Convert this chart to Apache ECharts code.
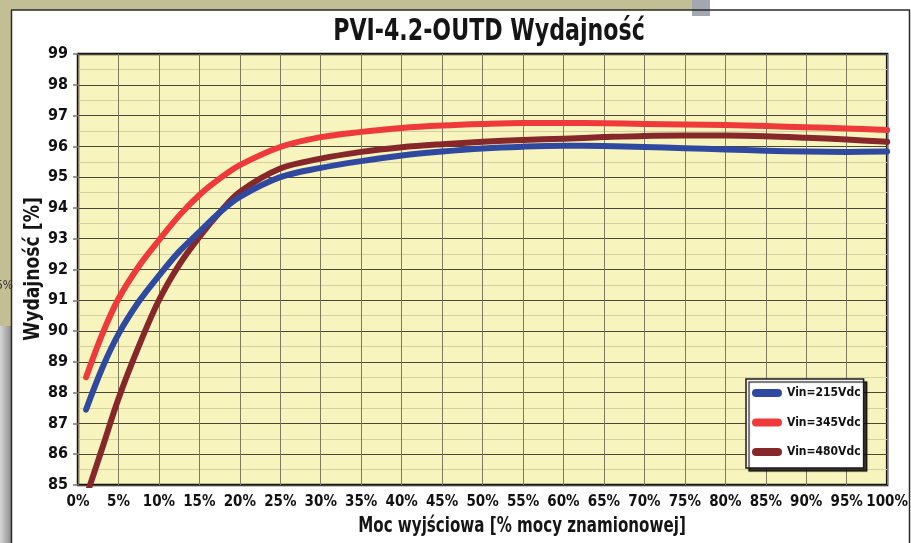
<!DOCTYPE html>
<html><head><meta charset="utf-8">
<script src="https://cdn.jsdelivr.net/npm/echarts@6/dist/echarts.min.js"></script>
<style>html,body{margin:0;padding:0;background:#fff}#c{width:911px;height:543px}</style>
</head><body><div id="c"></div>
<script>
const titleText = 'PVI-4.2-OUTD Wydajność';
const xAxisName = 'Moc wyjściowa [% mocy znamionowej]';
const yAxisName = 'Wydajność [%]';
const seriesNames = ['Vin=215Vdc', 'Vin=345Vdc', 'Vin=480Vdc'];
const seriesColors = ['#2f49a0', '#ef3a3c', '#86272a'];

const x215 = [1, 3, 5, 7.5, 10, 12.5, 15, 17.5, 20, 25, 30, 35, 40, 45, 50, 55, 60, 65, 70, 75, 80, 85, 90, 95, 100];
const v215 = [87.45, 88.8, 89.9, 90.95, 91.8, 92.58, 93.22, 93.85, 94.36, 95.0, 95.3, 95.52, 95.7, 95.83, 95.93, 95.99, 96.02, 96.01, 95.98, 95.94, 95.9, 95.86, 95.83, 95.82, 95.83];

const x345 = [1, 3, 5, 7.5, 10, 12.5, 15, 17.5, 20, 25, 30, 35, 40, 45, 50, 55, 60, 65, 70, 75, 80, 85, 90, 95, 100];
const v345 = [88.5, 89.9, 91.05, 92.1, 92.95, 93.75, 94.42, 94.95, 95.39, 95.98, 96.3, 96.47, 96.6, 96.68, 96.73, 96.76, 96.76, 96.75, 96.73, 96.71, 96.69, 96.66, 96.62, 96.58, 96.53];

const x480 = [1.3, 3, 5, 7.5, 10, 12.5, 15, 17.5, 20, 25, 30, 35, 40, 45, 50, 55, 60, 65, 70, 75, 80, 85, 90, 95, 100];
const v480 = [84.85, 86.2, 87.8, 89.5, 91.0, 92.15, 93.06, 93.85, 94.52, 95.28, 95.6, 95.82, 95.97, 96.07, 96.15, 96.21, 96.25, 96.3, 96.34, 96.35, 96.35, 96.33, 96.28, 96.22, 96.15];

const xs = [x215, x345, x480];
const vs = [v215, v345, v480];

const FONT = '"DejaVu Sans Condensed", "Liberation Sans Narrow", sans-serif';
const chart = echarts.init(document.getElementById('c'), null, {renderer: 'canvas'});
const pill = 'path://M4,0 L26,0 A4,4 0 0 1 26,8 L4,8 A4,4 0 0 1 4,0 Z';

const series = seriesNames.map((n, i) => ({
  name: n,
  type: 'line',
  data: xs[i].map((x, j) => [x, vs[i][j]]),
  smooth: 0.35,
  symbol: 'none',
  clip: true,
  lineStyle: {color: seriesColors[i], width: 6, cap: 'round', join: 'round'},
  itemStyle: {color: seriesColors[i]},
  z: i === 2 ? 3 : (i === 0 ? 4 : 5)
}));

chart.setOption({
  backgroundColor: '#ffffff',
  animation: false,
  grid: {left: 78, right: 23, top: 54, bottom: 58, show: true, backgroundColor: '#f8f4bd', borderColor: '#151515', borderWidth: 2.5, z: 0},
  legend: {
    orient: 'vertical', left: 746, top: 379,
    padding: [6, 3, 8, 6],
    itemGap: 13.5, itemWidth: 30, itemHeight: 8,
    icon: pill,
    backgroundColor: '#ffffff', borderColor: '#1a1a1a', borderWidth: 1.5,
    shadowColor: 'rgba(0,0,0,0.75)', shadowOffsetX: 3, shadowOffsetY: 3, shadowBlur: 1,
    textStyle: {fontFamily: FONT, fontWeight: 'bold', fontSize: 12, color: '#111', lineHeight: 16},
    data: seriesNames
  },
  xAxis: {
    type: 'value', min: 0, max: 100, interval: 5, z: 2,
    axisLine: {show: false},
    axisTick: {show: false},
    axisLabel: {formatter: '{value}%', fontFamily: FONT, fontWeight: 'bold', fontSize: 15, color: '#111', margin: 10, showMaxLabel: true, hideOverlap: false},
    splitLine: {show: true, lineStyle: {color: '#7d7a5e', width: 1}}
  },
  yAxis: {
    type: 'value', min: 85, max: 99, interval: 1, z: 2,
    axisLine: {show: false},
    axisTick: {show: true, length: 5, lineStyle: {color: '#777', width: 1.5}},
    axisLabel: {fontFamily: FONT, fontWeight: 'bold', fontSize: 16, color: '#111', margin: 10},
    splitLine: {show: true, lineStyle: {color: '#4a483a', width: 1}},
    minorTick: {show: false, splitNumber: 2},
    minorSplitLine: {show: true, lineStyle: {color: '#d4cfa3', width: 1}}
  },
  graphic: [
    {type: 'rect', shape: {x: 0, y: 0, width: 692, height: 10}, style: {fill: '#c3bf95'}, silent: true},
    {type: 'rect', shape: {x: 692, y: 0, width: 18, height: 16}, style: {fill: '#a3a8b0'}, silent: true},
    {type: 'rect', shape: {x: 0, y: 10, width: 11, height: 316}, style: {fill: '#c3bf95'}, silent: true},
    {type: 'rect', shape: {x: 0, y: 326, width: 11, height: 217}, style: {fill: new echarts.graphic.LinearGradient(0, 0, 1, 0, [{offset: 0, color: '#d6d6d6'}, {offset: 1, color: '#8e8e8e'}])}, silent: true},
    {type: 'text', x: -4, y: 286, style: {text: '5%', font: '12px ' + FONT, fill: '#333', textVerticalAlign: 'middle'}, silent: true},
    {type: 'line', shape: {x1: 11, y1: 10, x2: 910, y2: 10}, style: {stroke: '#2a2a2a', lineWidth: 1.5}, silent: true},
    {type: 'line', shape: {x1: 11.5, y1: 10, x2: 11.5, y2: 543}, style: {stroke: '#2a2a2a', lineWidth: 1.5}, silent: true},
    {type: 'line', shape: {x1: 909.5, y1: 10, x2: 909.5, y2: 543}, style: {stroke: '#2a2a2a', lineWidth: 1.5}, silent: true},
    {type: 'text', x: 489, y: 32, scaleX: 0.82, style: {text: titleText, font: 'bold 30px ' + FONT, fill: '#151515', textAlign: 'center', textVerticalAlign: 'middle'}, silent: true},
    {type: 'text', x: 522, y: 527, scaleX: 0.8, style: {text: xAxisName, font: 'bold 21px ' + FONT, fill: '#151515', textAlign: 'center', textVerticalAlign: 'middle'}, silent: true},
    {type: 'text', x: 33, y: 269, rotation: Math.PI / 2, scaleX: 0.87, style: {text: yAxisName, font: 'bold 22px ' + FONT, fill: '#151515', textAlign: 'center', textVerticalAlign: 'middle'}, silent: true}
  ],
  series: series
});
</script></body></html>
